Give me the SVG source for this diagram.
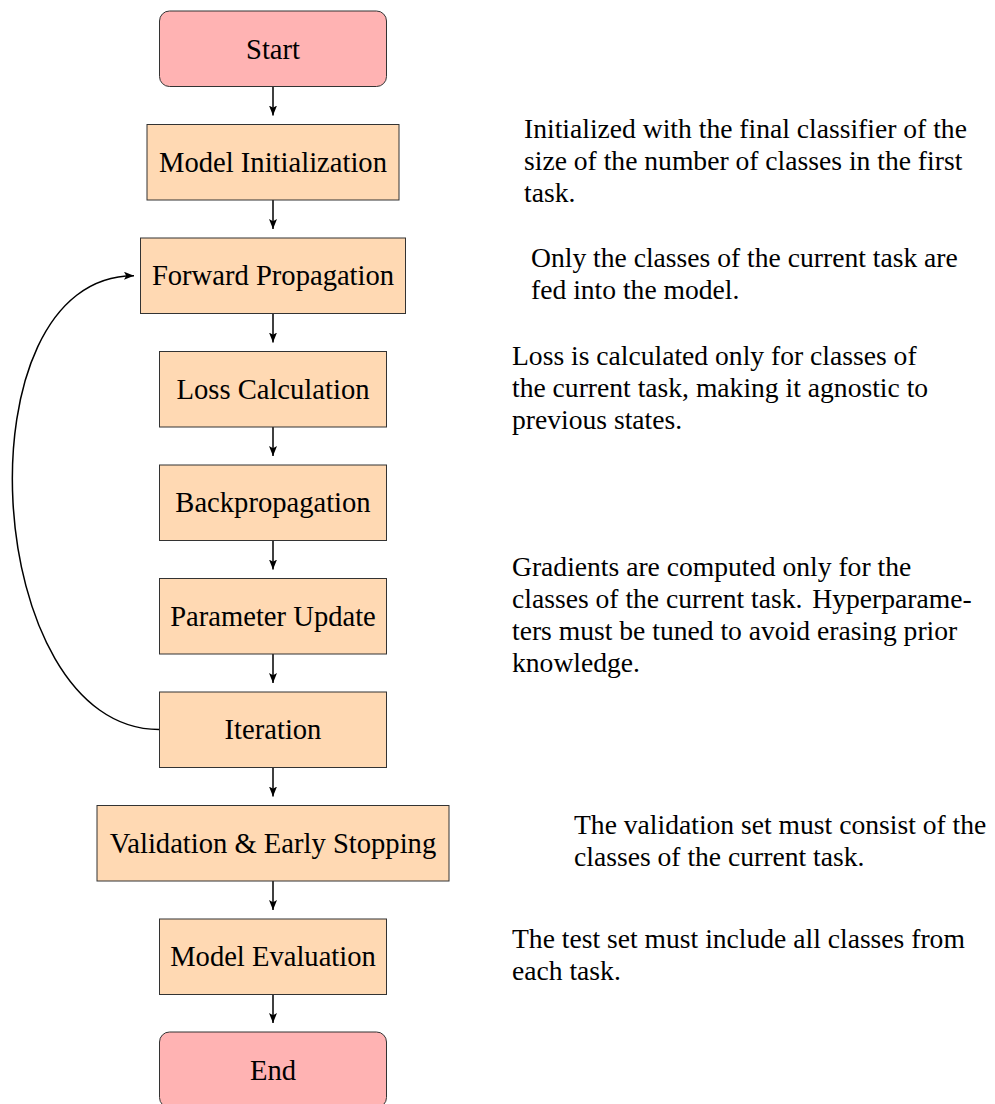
<svg xmlns="http://www.w3.org/2000/svg" width="995" height="1104" viewBox="0 0 995 1104">
<style>
.box{fill:#FFD9B3;stroke:#333333;stroke-width:1}
.term{fill:#FFB3B3;stroke:#333333;stroke-width:1}
.lbl{font-family:"Liberation Serif","Times New Roman",serif;font-size:28.6px;fill:#000;text-anchor:middle}
.note{font-family:"Liberation Serif","Times New Roman",serif;font-size:27.6px;fill:#000}
.edge{fill:none;stroke:#000;stroke-width:1.5}
</style>
<defs>
<marker id="arr" markerUnits="userSpaceOnUse" viewBox="0 0 10 8" refX="10" refY="4" markerWidth="10" markerHeight="8" orient="auto">
<path d="M0,0 L10,4 L0,8 L2.2,4 Z" fill="#000"/>
</marker>
</defs>
<rect width="995" height="1104" fill="#fff"/>

<g id="connectors">
<path class="edge" d="M273,86.5 V115.5" marker-end="url(#arr)"/>
<path class="edge" d="M273,200 V229" marker-end="url(#arr)"/>
<path class="edge" d="M273,313.5 V342.5" marker-end="url(#arr)"/>
<path class="edge" d="M273,427 V456" marker-end="url(#arr)"/>
<path class="edge" d="M273,540.5 V569.5" marker-end="url(#arr)"/>
<path class="edge" d="M273,654 V683" marker-end="url(#arr)"/>
<path class="edge" d="M273,767.5 V796.5" marker-end="url(#arr)"/>
<path class="edge" d="M273,881 V910" marker-end="url(#arr)"/>
<path class="edge" d="M273,994.5 V1023" marker-end="url(#arr)"/>
<path class="edge" d="M159,729.5 C-19,729.5 -44,275.75 134,275.75" marker-end="url(#arr)"/>
</g>

<g id="start">
<rect class="term" x="159.5" y="11" width="227" height="75.5" rx="10" ry="10"/>
<text class="lbl" x="273" y="58.5">Start</text>
</g>

<g id="model-init">
<rect class="box" x="147" y="124.5" width="252" height="75.5"/>
<text class="lbl" x="273" y="171.75">Model Initialization</text>
</g>

<g id="forward">
<rect class="box" x="140.5" y="238" width="265" height="75.5"/>
<text class="lbl" x="273" y="285.25">Forward Propagation</text>
</g>

<g id="loss">
<rect class="box" x="159.5" y="351.5" width="227" height="75.5"/>
<text class="lbl" x="273" y="398.75">Loss Calculation</text>
</g>

<g id="backprop">
<rect class="box" x="159.5" y="465" width="227" height="75.5"/>
<text class="lbl" x="273" y="512.25">Backpropagation</text>
</g>

<g id="param-update">
<rect class="box" x="159.5" y="578.5" width="227" height="75.5"/>
<text class="lbl" x="273" y="625.75">Parameter Update</text>
</g>

<g id="iteration">
<rect class="box" x="159.5" y="692" width="227" height="75.5"/>
<text class="lbl" x="273" y="739.25">Iteration</text>
</g>

<g id="validation">
<rect class="box" x="97" y="805.5" width="352" height="75.5"/>
<text class="lbl" x="273" y="852.75">Validation &amp; Early Stopping</text>
</g>

<g id="model-eval">
<rect class="box" x="159.5" y="919" width="227" height="75.5"/>
<text class="lbl" x="273" y="966.25">Model Evaluation</text>
</g>

<g id="end">
<rect class="term" x="159.5" y="1032" width="227" height="75.5" rx="10" ry="10"/>
<text class="lbl" x="273" y="1079.5">End</text>
</g>

<g id="note-init">
<text class="note" x="524" y="137.75">Initialized with the final classifier of the</text>
<text class="note" x="524" y="169.75">size of the number of classes in the first</text>
<text class="note" x="524" y="201.75">task.</text>
</g>

<g id="note-forward">
<text class="note" x="531" y="267.25">Only the classes of the current task are</text>
<text class="note" x="531" y="299.25">fed into the model.</text>
</g>

<g id="note-loss">
<text class="note" x="512" y="364.75">Loss is calculated only for classes of</text>
<text class="note" x="512" y="396.75">the current task, making it agnostic to</text>
<text class="note" x="512" y="428.75">previous states.</text>
</g>

<g id="note-update">
<text class="note" x="512" y="575.5">Gradients are computed only for the</text>
<text class="note" x="512" y="607.5">classes of the current task. <tspan dx="3">Hyperparame-</tspan></text>
<text class="note" x="512" y="639.5">ters must be tuned to avoid erasing prior</text>
<text class="note" x="512" y="671.5">knowledge.</text>
</g>

<g id="note-validation">
<text class="note" x="574" y="834.4">The validation set must consist of the</text>
<text class="note" x="574" y="866.4">classes of the current task.</text>
</g>

<g id="note-eval">
<text class="note" x="512" y="947.85">The test set must include all classes from</text>
<text class="note" x="512" y="979.85">each task.</text>
</g>
</svg>
